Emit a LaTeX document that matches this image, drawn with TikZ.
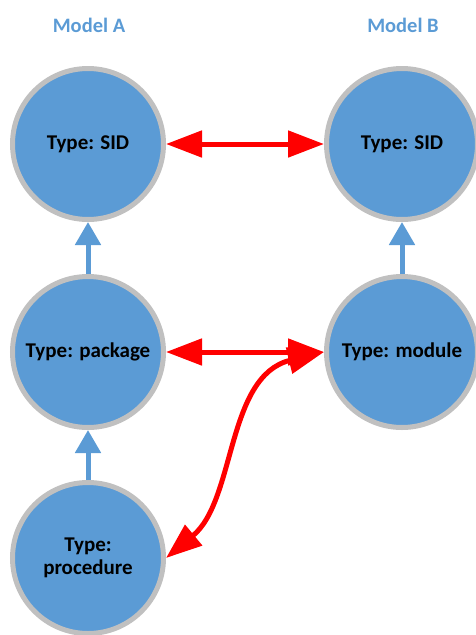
\documentclass[tikz,border=0pt]{standalone}
\usepackage{fontspec}
\setmainfont{Carlito}
\usetikzlibrary{arrows.meta}
\definecolor{nodeblue}{HTML}{5B9BD5}
\definecolor{ringgray}{HTML}{C0C0C0}
\definecolor{titleblue}{HTML}{5B9BD5}
\definecolor{arrred}{HTML}{FF0000}
\begin{document}
\begin{tikzpicture}[x=1pt,y=-1pt,
  circ/.style={circle,fill=nodeblue,draw=ringgray,line width=5pt,minimum size=151pt,inner sep=0pt,
    font=\bfseries\fontsize{21}{23}\selectfont,align=center,text=black},
  title/.style={font=\bfseries\fontsize{20.5}{24}\selectfont,text=titleblue},
  redarr/.style={draw=arrred,line width=5pt,{Triangle[length=36pt,width=26pt]}-{Triangle[length=36pt,width=26pt]}},
  bluearr/.style={draw=nodeblue,line width=5pt,-{Triangle[length=23pt,width=25pt]}}]
\useasboundingbox (0,0) rectangle (475,635);
\node[title] (ta) at (89,25) {Model A};
\node[title] (tb) at (403,25) {Model B};
\node[circ] (a1) at (88,144) {Type: SID};
\node[circ] (a2) at (88,352) {Type: package};
\node[circ] (a3) at (88,558) {Type:\\procedure};
\node[circ] (b1) at (402,144) {Type: SID};
\node[circ] (b2) at (402,352) {Type: module};
\draw[redarr] (a1) -- (b1);
\draw[redarr] (a2) -- (b2);
\draw[redarr] (a3.east) .. controls (236,500) and (226,376) .. (b2.west);
\draw[bluearr] (a2) -- (a1);
\draw[bluearr] (a3) -- (a2);
\draw[bluearr] (b2) -- (b1);
\end{tikzpicture}
\end{document}
